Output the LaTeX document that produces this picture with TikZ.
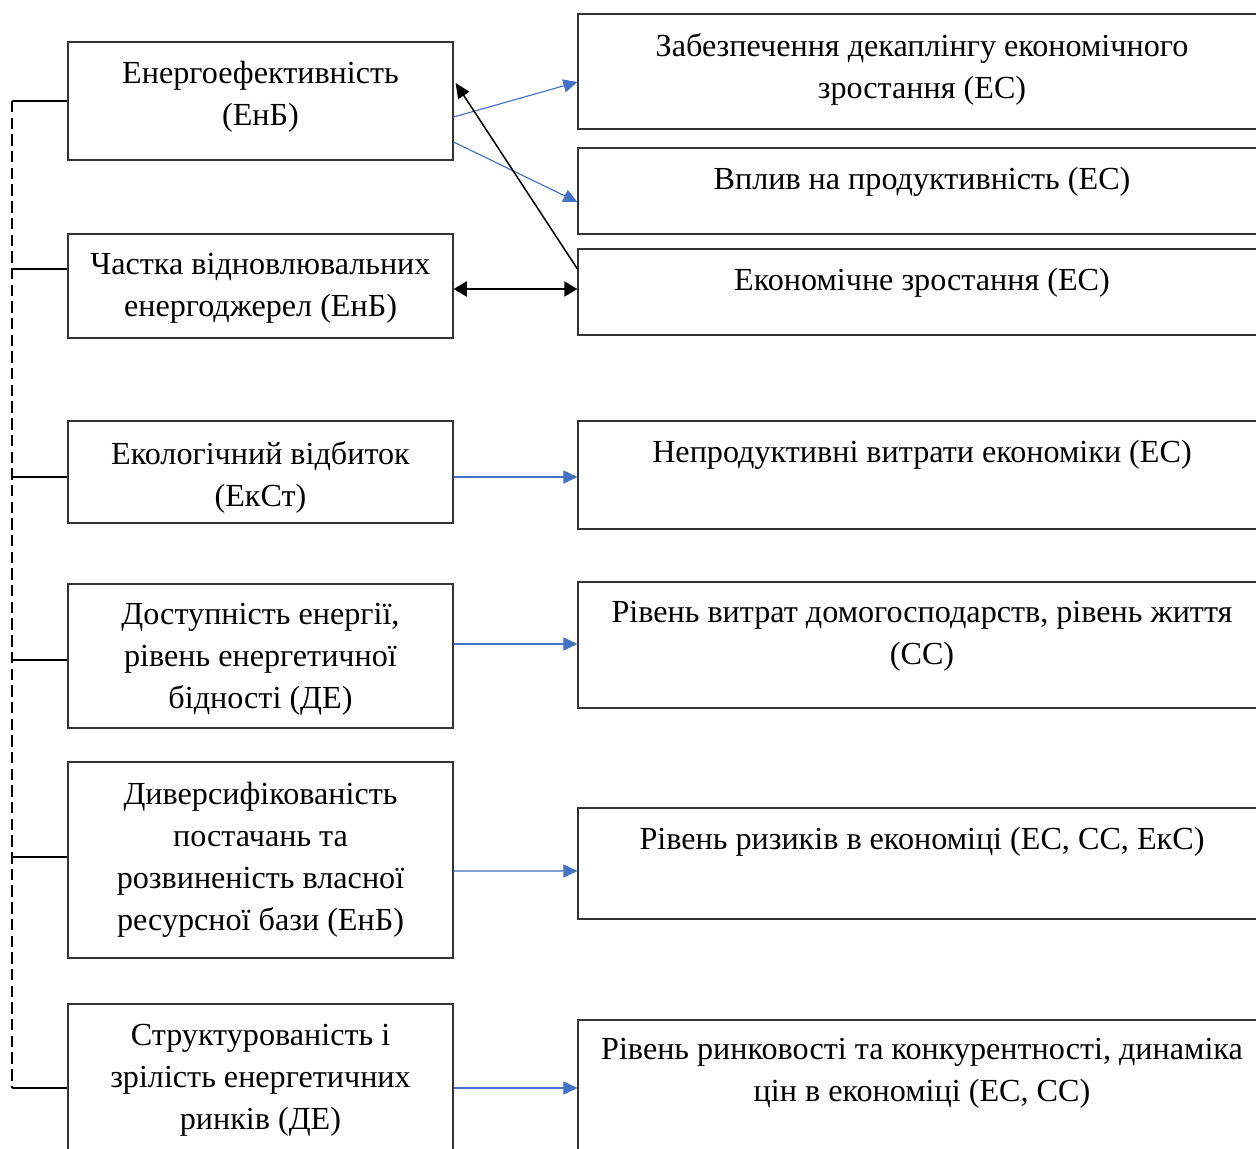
\documentclass[tikz,border=0pt]{standalone}
\usepackage{fontspec}
\setmainfont{Liberation Serif}
\usetikzlibrary{arrows.meta,calc}
\definecolor{linkblue}{RGB}{68,114,196}
\begin{document}
\begin{tikzpicture}
 [
 x=0.02cm, y=-0.02cm,
 leftbox/.style={rectangle, draw=black!80, fill=white, line width=0.75pt, minimum width=385*0.569pt},
 rightbox/.style={rectangle, draw=black!80, fill=white, line width=0.75pt, minimum width=688*0.569pt},
 textbox/.style={anchor=north, inner sep=0pt, align=center, font=\fontsize{18.3}{23.9}\selectfont},
 bluearrow/.style={draw=linkblue, line width=0.65pt, -{Triangle[length=8pt,width=7.5pt]}, fill=linkblue},
 blackarrow/.style={draw=black, line width=0.85pt, -{Triangle[length=8.5pt,width=7.5pt]}},
 bothway/.style={draw=black, line width=1.3pt, {Triangle[length=7.5pt,width=8.5pt]}-{Triangle[length=7.5pt,width=8.5pt]}},
 busline/.style={draw=black, line width=1pt}
 ]
 \path[use as bounding box, clip] (0,0) rectangle (1256,1148);
 % left column
 \node at (260.5,101) [leftbox, minimum height=118*0.569pt] (b1) {};
 \node at (260.5,286) [leftbox, minimum height=104*0.569pt] (b2) {};
 \node at (260.5,472) [leftbox, minimum height=102*0.569pt] (b3) {};
 \node at (260.5,656) [leftbox, minimum height=144*0.569pt] (b4) {};
 \node at (260.5,860) [leftbox, minimum height=196*0.569pt] (b5) {};
 \node at (260.5,1088) [leftbox, minimum height=168*0.569pt] (b6) {};
 \node at (260.5,61) [textbox] (t1) {Енергоефективність\\(ЕнБ)};
 \node at (260.5,253) [textbox] (t2) {Частка відновлювальних\\енергоджерел (ЕнБ)};
 \node at (260.5,441) [textbox] (t3) {Екологічний відбиток\\(ЕкСт)};
 \node at (260.5,603) [textbox] (t4) {Доступність енергії,\\рівень енергетичної\\бідності (ДЕ)};
 \node at (260.5,782) [textbox] (t5) {Диверсифікованість\\постачань та\\розвиненість власної\\ресурсної бази (ЕнБ)};
 \node at (260.5,1024) [textbox] (t6) {Структурованість і\\зрілість енергетичних\\ринків (ДЕ)};
 % right column
 \node at (922,71.5) [rightbox, minimum height=115*0.569pt] (ra) {};
 \node at (922,191) [rightbox, minimum height=86*0.569pt] (rb) {};
 \node at (922,292) [rightbox, minimum height=86*0.569pt] (rc) {};
 \node at (922,475) [rightbox, minimum height=108*0.569pt] (rd) {};
 \node at (922,645) [rightbox, minimum height=126*0.569pt] (re) {};
 \node at (922,863.5) [rightbox, minimum height=111*0.569pt] (rf) {};
 \node at (922,1090) [rightbox, minimum height=140*0.569pt] (rg) {};
 \node at (922,33) [textbox] (ta) {Забезпечення декаплінгу економічного\\зростання (ЕС)};
 \node at (922,167) [textbox] (tb) {Вплив на продуктивність (ЕС)};
 \node at (922,268) [textbox] (tc) {Економічне зростання (ЕС)};
 \node at (922,440) [textbox] (td) {Непродуктивні витрати економіки (ЕС)};
 \node at (922,601) [textbox] (te) {Рівень витрат домогосподарств, рівень життя\\(СС)};
 \node at (922,827) [textbox] (tf) {Рівень ризиків в економіці (ЕС, СС, ЕкС)};
 \node at (922,1038) [textbox] (tg) {Рівень ринковості та конкурентності, динаміка\\цін в економіці (ЕС, СС)};
 % dashed bus on the left
 \coordinate (k1) at (12,101);
 \coordinate (k2) at (12,269);
 \coordinate (k3) at (12,477);
 \coordinate (k4) at (12,660);
 \coordinate (k5) at (12,857);
 \coordinate (k6) at (12,1088);
 \draw[busline, dash pattern=on 6.5pt off 3pt] (k1) -- (k6);
 \foreach \i in {1,...,6}
   \draw[busline] (k\i) -- (k\i -| b\i.west);
 % arrows
 \draw[bluearrow] ($(b1.east)+(0,16)$) -- ($(ra.west)+(0,10.5)$);
 \draw[bluearrow] ($(b1.east)+(0,41)$) -- ($(rb.west)+(0,11)$);
 \draw[blackarrow] ($(rc.west)+(0,-23)$) -- ($(b1.east)+(2,-18)$);
 \draw[bothway] ($(b2.east)+(0,3)$) -- ($(rc.west)+(0,-3)$);
 \draw[bluearrow] ($(b3.east)+(0,5)$) -- ($(rd.west)+(0,2)$);
 \draw[bluearrow] ($(b4.east)+(0,-12)$) -- ($(re.west)+(0,-1)$);
 \draw[bluearrow] ($(b5.east)+(0,11)$) -- ($(rf.west)+(0,7.5)$);
 \draw[bluearrow] ($(b6.east)+(0,0)$) -- ($(rg.west)+(0,-2)$);
\end{tikzpicture}
\end{document}
